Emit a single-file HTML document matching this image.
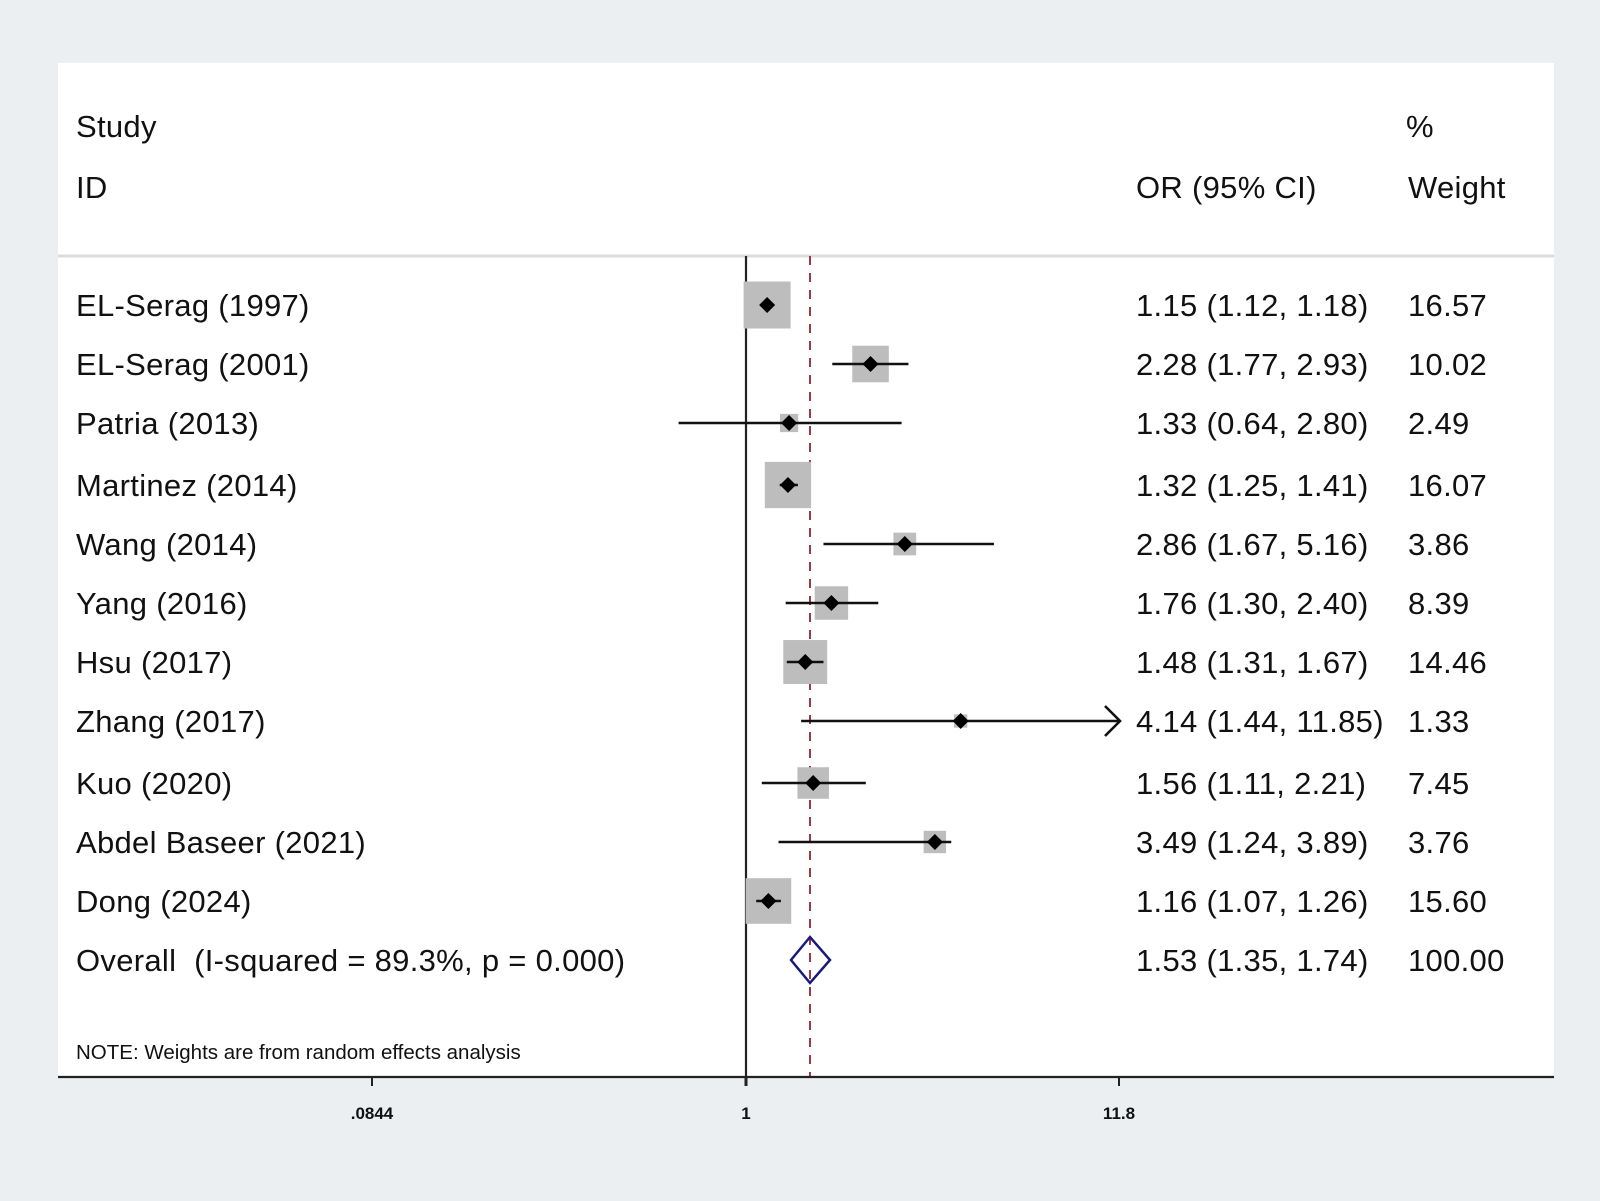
<!DOCTYPE html>
<html><head><meta charset="utf-8"><style>
html,body{margin:0;padding:0;background:#ebeff1;}
svg{display:block;}
text{font-family:"Liberation Sans",sans-serif;fill:#111;}
</style></head><body>
<svg id="s" width="1600" height="1201" viewBox="0 0 1600 1201" xmlns="http://www.w3.org/2000/svg">
<rect x="0" y="0" width="1600" height="1201" fill="#ebeff1"/>
<rect x="58" y="63" width="1496" height="1014" fill="#ffffff"/>
<line x1="58" y1="256" x2="1554" y2="256" stroke="#dcdcdc" stroke-width="3"/>
<g font-size="31" letter-spacing="0.3">
<text x="76" y="137">Study</text>
<text x="76" y="198">ID</text>
<text x="1406" y="137">%</text>
<text x="1136" y="198">OR (95% CI)</text>
<text x="1408" y="198">Weight</text>
<text x="76" y="316">EL-Serag (1997)</text><text x="1136" y="316">1.15 (1.12, 1.18)</text><text x="1408" y="316">16.57</text>
<text x="76" y="375">EL-Serag (2001)</text><text x="1136" y="375">2.28 (1.77, 2.93)</text><text x="1408" y="375">10.02</text>
<text x="76" y="434">Patria (2013)</text><text x="1136" y="434">1.33 (0.64, 2.80)</text><text x="1408" y="434">2.49</text>
<text x="76" y="496">Martinez (2014)</text><text x="1136" y="496">1.32 (1.25, 1.41)</text><text x="1408" y="496">16.07</text>
<text x="76" y="555">Wang (2014)</text><text x="1136" y="555">2.86 (1.67, 5.16)</text><text x="1408" y="555">3.86</text>
<text x="76" y="614">Yang (2016)</text><text x="1136" y="614">1.76 (1.30, 2.40)</text><text x="1408" y="614">8.39</text>
<text x="76" y="673">Hsu (2017)</text><text x="1136" y="673">1.48 (1.31, 1.67)</text><text x="1408" y="673">14.46</text>
<text x="76" y="732">Zhang (2017)</text><text x="1136" y="732">4.14 (1.44, 11.85)</text><text x="1408" y="732">1.33</text>
<text x="76" y="794">Kuo (2020)</text><text x="1136" y="794">1.56 (1.11, 2.21)</text><text x="1408" y="794">7.45</text>
<text x="76" y="853">Abdel Baseer (2021)</text><text x="1136" y="853">3.49 (1.24, 3.89)</text><text x="1408" y="853">3.76</text>
<text x="76" y="912">Dong (2024)</text><text x="1136" y="912">1.16 (1.07, 1.26)</text><text x="1408" y="912">15.60</text>
<text x="76" y="971" xml:space="preserve">Overall  (I-squared = 89.3%, p = 0.000)</text><text x="1136" y="971">1.53 (1.35, 1.74)</text><text x="1408" y="971">100.00</text>
</g>
<text x="76" y="1059" font-size="20.5">NOTE: Weights are from random effects analysis</text>
<line x1="746" y1="256" x2="746" y2="1077" stroke="#222" stroke-width="2.2"/>
<line x1="810" y1="256" x2="810" y2="1077" stroke="#9a3a44" stroke-width="2" stroke-dasharray="9,8"/>
<line x1="58" y1="1077" x2="1554" y2="1077" stroke="#222" stroke-width="2.2"/>
<line x1="372" y1="1077" x2="372" y2="1086" stroke="#222" stroke-width="2"/>
<line x1="746" y1="1077" x2="746" y2="1086" stroke="#222" stroke-width="3"/>
<line x1="1119" y1="1077" x2="1119" y2="1086" stroke="#222" stroke-width="2"/>
<g font-size="17" text-anchor="middle" font-weight="bold" fill="#222">
<text x="372" y="1119">.0844</text>
<text x="746" y="1119">1</text>
<text x="1119" y="1119">11.8</text>
</g>
<g id="shapes"></g>
<polygon points="791,960 810,937 830,960 810,983" fill="none" stroke="#1a1a7a" stroke-width="2.5"/>
</svg>
<script>
var d=[[1.15,1.12,1.18,16.57,305],[2.28,1.77,2.93,10.02,364],[1.33,0.64,2.80,2.49,423],[1.32,1.25,1.41,16.07,485],[2.86,1.67,5.16,3.86,544],[1.76,1.30,2.40,8.39,603],[1.48,1.31,1.67,14.46,662],[4.14,1.44,11.85,1.33,721],[1.56,1.11,2.21,7.45,783],[3.49,1.24,3.89,3.76,842],[1.16,1.07,1.26,15.60,901]];
function X(v){return 746+151.1*Math.log(v);}
var h='';
d.forEach(function(r){var y=r[4],c=X(r[0]),s=11.55*Math.sqrt(r[3]);
h+='<rect x="'+(c-s/2)+'" y="'+(y-s/2)+'" width="'+s+'" height="'+s+'" fill="#bdbdbd"/>';
var hi=Math.min(X(r[2]),1120);
h+='<line x1="'+X(r[1])+'" y1="'+y+'" x2="'+hi+'" y2="'+y+'" stroke="#111" stroke-width="2.6"/>';
if(r[2]>11.8)h+='<polyline points="1105,'+(y-15)+' 1120,'+y+' 1105,'+(y+15)+'" fill="none" stroke="#111" stroke-width="2.6"/>';
h+='<polygon points="'+(c-8)+','+y+' '+c+','+(y-8)+' '+(c+8)+','+y+' '+c+','+(y+8)+'" fill="#000"/>';});
document.getElementById('shapes').innerHTML=h;
</script>
</body></html>
